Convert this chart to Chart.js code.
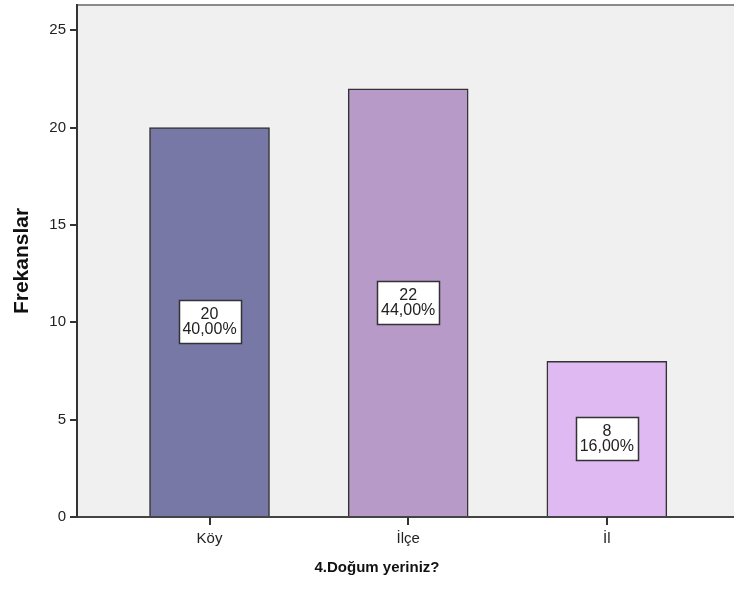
<!DOCTYPE html>
<html>
<head>
<meta charset="utf-8">
<script src="https://cdn.jsdelivr.net/npm/chart.js@4"></script>
<style>
  html, body { margin: 0; padding: 0; background: #fff; }
  #wrap { width: 734px; height: 592px; }
</style>
</head>
<body>
<div id="wrap"><canvas id="chart"></canvas></div>
<script>
const categories = ['Köy', 'İlçe', 'İl'];
const counts = [20, 22, 8];
const percents = ['40,00%', '44,00%', '16,00%'];
const yTicks = [0, 5, 10, 15, 20, 25];
const barColors = ['#7878a6', '#b79ac8', '#dfb9f1'];

document.addEventListener('DOMContentLoaded', function() {
    const ctx = document.getElementById('chart').getContext('2d');
    const fontFamily = '"Liberation Sans", Arial, sans-serif';

    const plotBackground = {
        id: 'plotBackground',
        beforeDraw(chart) {
            const a = chart.chartArea;
            const c = chart.ctx;
            c.save();
            c.fillStyle = '#f0f0f0';
            c.fillRect(a.left, a.top, a.right - a.left, a.bottom - a.top);
            c.strokeStyle = '#8a8a8a';
            c.lineWidth = 2;
            c.beginPath();
            c.moveTo(a.left, a.top);
            c.lineTo(a.right, a.top);
            c.stroke();
            c.restore();
        }
    };

    // white boxes with count and percent in the middle of each bar
    const barLabels = {
        id: 'barLabels',
        afterDatasetsDraw(chart) {
            const c = chart.ctx;
            const bars = chart.getDatasetMeta(0).data;
            c.save();
            c.font = '16px ' + fontFamily;
            c.textAlign = 'center';
            c.textBaseline = 'middle';
            bars.forEach(function(bar, i) {
                const cx = bar.x;
                const cy = (bar.y + bar.base) / 2;
                const w = 62, h = 43;
                const bx = Math.round(cx - w / 2) + 0.5;
                const by = Math.round(cy - h / 2) + 0.5;
                c.fillStyle = '#ffffff';
                c.fillRect(bx, by, w, h);
                c.strokeStyle = '#333';
                c.lineWidth = 1.5;
                c.strokeRect(bx, by, w, h);
                c.fillStyle = '#222';
                c.fillText(String(counts[i]), cx, cy - 7);
                c.fillText(percents[i], cx, cy + 8);
            });
            c.restore();
        }
    };

    // category tick marks and the x axis title
    const xExtras = {
        id: 'xExtras',
        afterDraw(chart) {
            const c = chart.ctx;
            const xs = chart.scales.x;
            const a = chart.chartArea;
            c.save();
            c.fillStyle = '#333';
            categories.forEach(function(_, i) {
                const px = Math.round(xs.getPixelForValue(i));
                c.fillRect(px - 1, a.bottom, 2, 8);
            });
            c.font = 'bold 15px ' + fontFamily;
            c.fillStyle = '#111';
            c.textAlign = 'center';
            c.textBaseline = 'middle';
            c.fillText('4.Doğum yeriniz?', 377, 568);
            c.restore();
        }
    };

    new Chart(ctx, {
        type: 'bar',
        data: {
            datasets: [{
                data: counts.map(function(v, i) { return { x: i, y: v }; }),
                backgroundColor: barColors,
                borderColor: '#333',
                borderWidth: 1.5,
                barThickness: 120
            }]
        },
        options: {
            responsive: true,
            maintainAspectRatio: false,
            animation: false,
            layout: { padding: { top: 5, right: 0, bottom: 0, left: 0 } },
            plugins: {
                legend: { display: false },
                tooltip: { enabled: false }
            },
            scales: {
                x: {
                    type: 'linear',
                    offset: false,
                    min: -0.667,
                    max: 2.64,
                    afterBuildTicks: function(scale) {
                        scale.ticks = categories.map(function(_, i) { return { value: i }; });
                    },
                    afterFit: function(scale) {
                        scale.height = 75;
                        scale.paddingLeft = 0;
                        scale.paddingRight = 0;
                    },
                    grid: { display: false, drawTicks: false },
                    border: { display: true, color: '#444', width: 2 },
                    ticks: {
                        padding: 13,
                        color: '#222',
                        font: { family: fontFamily, size: 15 },
                        callback: function(v) { return categories[v]; }
                    }
                },
                y: {
                    min: 0,
                    max: 26.3,
                    afterBuildTicks: function(scale) {
                        scale.ticks = yTicks.map(function(v) { return { value: v }; });
                    },
                    afterFit: function(scale) {
                        scale.width = 77;
                        scale.paddingTop = 0;
                        scale.paddingBottom = 0;
                    },
                    grid: { drawOnChartArea: false, drawTicks: true, tickLength: 7, color: '#333', lineWidth: 2 },
                    border: { color: '#333', width: 2 },
                    ticks: {
                        padding: 4,
                        color: '#222',
                        font: { family: fontFamily, size: 15 }
                    },
                    title: {
                        display: true,
                        text: 'Frekanslar',
                        color: '#111',
                        padding: { top: 10, bottom: 0 },
                        font: { family: fontFamily, size: 21, weight: 'bold' }
                    }
                }
            }
        },
        plugins: [plotBackground, barLabels, xExtras]
    });
});
</script>
</body>
</html>
